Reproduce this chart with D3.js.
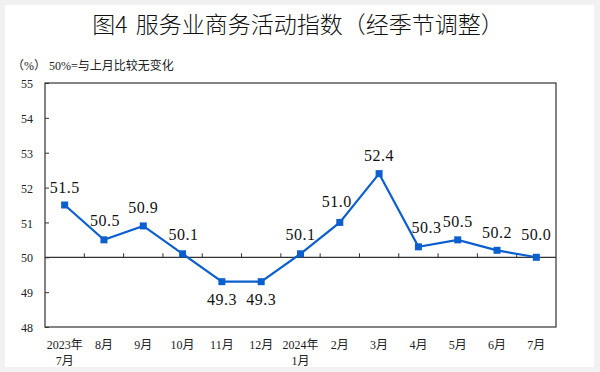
<!DOCTYPE html>
<html>
<head>
<meta charset="utf-8">
<script src="https://cdn.jsdelivr.net/npm/d3@7"></script>
<style>
	body { margin: 0; background: #f1f1f1; }
	svg { display: block; }
</style>
</head>
<body>
<div id="chart"></div>
<script>
var months = ["2023年\n7月", "8月", "9月", "10月", "11月", "12月", "2024年\n1月", "2月", "3月", "4月", "5月", "6月", "7月"];
var values = [51.5, 50.5, 50.9, 50.1, 49.3, 49.3, 50.1, 51.0, 52.4, 50.3, 50.5, 50.2, 50.0];
// label offsets: dy relative to point, dx a small shift
var labelDy = [-18, -19, -19, -19, 18, 18, -19, -21, -18, -19, -18, -18, -23];
var labelDx = [0, 1, 0, 1, 0, 0, 0, -3, 0, 8, 0, 0, 0];
var yTicks = [48, 49, 50, 51, 52, 53, 54, 55];

var serif = "'Liberation Serif', 'Times New Roman', 'Noto Sans CJK SC', serif";

function paint_chart(){
	var svg = d3.select("#chart").append("svg")
		.attr("width", 600)
		.attr("height", 372);

	// white panel
	svg.append("rect")
		.attr("x", 5).attr("y", 5)
		.attr("width", 589).attr("height", 362)
		.attr("fill", "#fff");

	var margin = {top: 83, left: 45, right: 44, bottom: 45},
	    width = 600 - margin.left - margin.right,
	    height = 372 - margin.top - margin.bottom;

	var x = d3.scaleBand().domain(months).range([0, width]);
	var y = d3.scaleLinear().domain([48, 55]).range([height, 0]);

	var title = svg.append("text")
		.attr("x", 298).attr("y", 33)
		.attr("text-anchor", "middle")
		.style("font-family", "'Noto Sans CJK SC', sans-serif")
		.style("font-size", "23px")
		.style("font-weight", 300)
		.attr("fill", "#111");
	title.append("tspan").text("图4");
	title.append("tspan").attr("dx", 8).text("服务业商务活动指数（经季节调整）");

	svg.append("text")
		.attr("x", 12).attr("y", 70)
		.style("font-family", serif)
		.style("font-size", "12px")
		.attr("fill", "#222")
		.text("（%） 50%=与上月比较无变化");

	var g = svg.append("g")
		.attr("transform", "translate(" + margin.left + "," + margin.top + ")");

	g.append("rect")
		.attr("width", width).attr("height", height)
		.attr("fill", "none")
		.attr("stroke", "#333")
		.attr("stroke-width", 1.2);

	// y axis, ticks inward
	var yAxis = d3.axisRight(y).tickValues(yTicks).tickSize(4).tickFormat("");
	g.append("g").call(yAxis).call(function(s){
		s.select(".domain").remove();
		s.selectAll("line").attr("stroke", "#333");
	});
	g.selectAll(".ylab").data(yTicks).enter().append("text")
		.attr("class", "ylab")
		.attr("x", -12)
		.attr("y", function(d){ return y(d) + 1; })
		.attr("dy", "0.35em")
		.attr("text-anchor", "end")
		.style("font-family", serif)
		.style("font-size", "12px")
		.attr("fill", "#222")
		.text(function(d){ return d; });

	// 50 baseline with ticks between months
	g.append("line")
		.attr("x1", 0).attr("x2", width)
		.attr("y1", y(50)).attr("y2", y(50))
		.attr("stroke", "#333").attr("stroke-width", 1.2);
	g.selectAll(".xtick").data(months.slice(1)).enter().append("line")
		.attr("class", "xtick")
		.attr("x1", function(d){ return x(d); })
		.attr("x2", function(d){ return x(d); })
		.attr("y1", y(50)).attr("y2", y(50) - 4)
		.attr("stroke", "#333");

	// x labels
	var xl = g.selectAll(".xlab").data(months).enter().append("text")
		.attr("class", "xlab")
		.attr("y", height + 22)
		.attr("text-anchor", "middle")
		.style("font-family", serif)
		.style("font-size", "12px")
		.attr("fill", "#222");
	xl.each(function(d){
		var t = d3.select(this), cx = x(d) + x.bandwidth() / 2;
		d.split("\n").forEach(function(p, i){
			t.append("tspan").attr("x", cx).attr("dy", i ? 16 : 0).text(p);
		});
	});

	var line = d3.line()
		.x(function(d, i){ return x(months[i]) + x.bandwidth() / 2; })
		.y(function(d){ return y(d); });

	g.append("path")
		.datum(values)
		.attr("d", line)
		.attr("fill", "none")
		.attr("stroke", "#0b5fcf")
		.attr("stroke-width", 2.2);

	g.selectAll(".pt").data(values).enter().append("rect")
		.attr("class", "pt")
		.attr("x", function(d, i){ return x(months[i]) + x.bandwidth() / 2 - 3.5; })
		.attr("y", function(d){ return y(d) - 3.5; })
		.attr("width", 7).attr("height", 7)
		.attr("fill", "#0b5fcf");

	g.selectAll(".vlab").data(values).enter().append("text")
		.attr("class", "vlab")
		.attr("x", function(d, i){ return x(months[i]) + x.bandwidth() / 2 + labelDx[i]; })
		.attr("y", function(d, i){ return y(d) + labelDy[i]; })
		.attr("dy", "0.35em")
		.attr("text-anchor", "middle")
		.style("font-family", serif)
		.style("font-size", "16px")
		.style("letter-spacing", "0.5px")
		.attr("fill", "#111")
		.text(function(d){ return d.toFixed(1); });
}

paint_chart();
</script>
</body>
</html>
